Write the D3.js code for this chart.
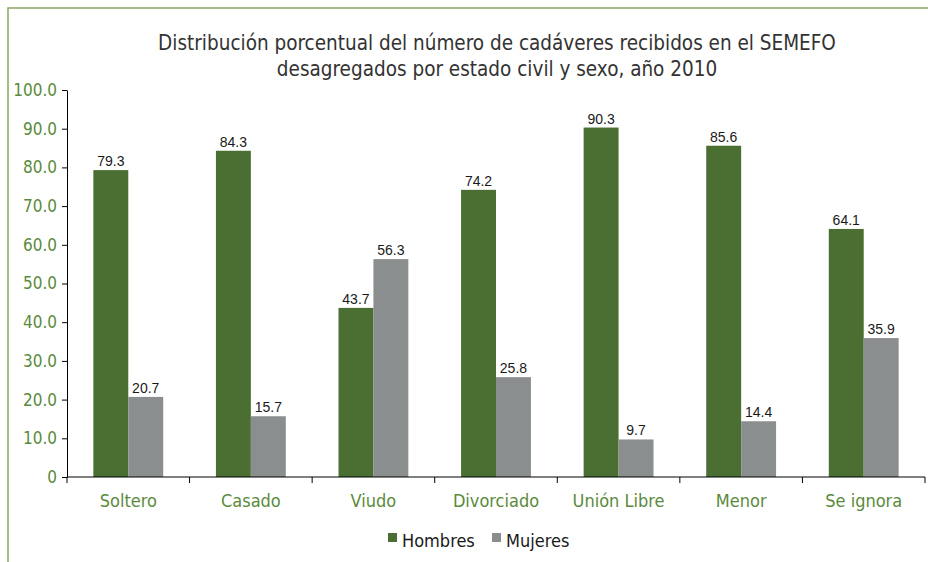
<html>
<head>
	<meta charset="utf-8">
	<title>SEMEFO 2010</title>
	<style>
		body { margin:0; background:#fff; }
		.cond { font-family: "Liberation Sans Narrow", "DejaVu Sans Condensed", "Roboto", sans-serif; }
		.xAxis path, .yAxis path { stroke:#000; }
	</style>
	<script src="https://cdn.jsdelivr.net/npm/d3@7/dist/d3.min.js"></script>
</head>
<body>
	<script type="text/javascript">

		/************** data *****************/
		var categories = ["Soltero","Casado","Viudo","Divorciado","Unión Libre","Menor","Se ignora"];
		var series = ["Hombres","Mujeres"];
		var hombres = [79.3, 84.3, 43.7, 74.2, 90.3, 85.6, 64.1];
		var mujeres = [20.7, 15.7, 56.3, 25.8, 9.7, 14.4, 35.9];
		var yTicks = [0,10,20,30,40,50,60,70,80,90,100];
		var titleLines = ["Distribución porcentual del número de cadáveres recibidos en el SEMEFO",
		                  "desagregados por estado civil y sexo, año 2010"];

		var colors = {Hombres:"#4b6f32", Mujeres:"#8b8e8e"};
		var green = "#5b8a3c";

		/************** layout *****************/
		var width = 928, height = 562;
		var margin = {top:90, right:3, bottom:85, left:67};

		var svg = d3.select("body").append("svg")
			.attr("width", width)
			.attr("height", height);

		// frame lines (top + left)
		svg.append("path")
			.attr("d", "M8,562 L8,8 L928,8")
			.attr("fill","none")
			.attr("stroke","#8aa860")
			.attr("stroke-width",1.5);

		// title
		svg.append("g").selectAll("text")
			.data(titleLines)
			.enter().append("text")
			.attr("class","cond")
			.attr("x", 497)
			.attr("y", function(d,i){ return 50 + i*26; })
			.attr("text-anchor","middle")
			.attr("font-size","20.5px")
			.attr("fill","#333")
			.text(function(d){ return d; });

		var data = categories.map(function(c,i){
			return {cat:c, vals:[{s:"Hombres", v:hombres[i]}, {s:"Mujeres", v:mujeres[i]}]};
		});

		var x0 = d3.scaleBand()
			.domain(categories)
			.range([margin.left, width - margin.right])
			.paddingInner(0.43)
			.paddingOuter(0.215);
		var x1 = d3.scaleBand()
			.domain(series)
			.range([0, x0.bandwidth()]);
		var y = d3.scaleLinear()
			.domain([0,100])
			.range([height - margin.bottom, margin.top]);

		// y axis
		var yAxis = d3.axisLeft(y)
			.tickValues(yTicks)
			.tickSize(5)
			.tickSizeOuter(0)
			.tickFormat(function(d){ return d === 0 ? "0" : d3.format(".1f")(d); });
		var gy = svg.append("g").attr("class","yAxis")
			.attr("transform","translate("+ margin.left +",0)")
			.call(yAxis);
		gy.selectAll(".tick line").attr("stroke","#000");
		gy.selectAll("text")
			.attr("class","cond")
			.attr("font-size","17px")
			.attr("fill", green)
			.attr("x",-10);

		// bars
		var groups = svg.append("g").selectAll("g")
			.data(data)
			.enter().append("g")
			.attr("transform", function(d){ return "translate("+ x0(d.cat) +",0)"; });

		groups.selectAll("rect")
			.data(function(d){ return d.vals; })
			.enter().append("rect")
			.attr("x", function(d){ return x1(d.s); })
			.attr("y", function(d){ return y(d.v); })
			.attr("width", x1.bandwidth())
			.attr("height", function(d){ return y(0) - y(d.v); })
			.attr("fill", function(d){ return colors[d.s]; });

		groups.selectAll("text")
			.data(function(d){ return d.vals; })
			.enter().append("text")
			.attr("x", function(d){ return x1(d.s) + x1.bandwidth()/2; })
			.attr("y", function(d){ return y(d.v) - 4; })
			.attr("text-anchor","middle")
			.attr("font-family","Liberation Sans, Arial, sans-serif")
			.attr("font-size","14px")
			.attr("fill","#1a1a1a")
			.text(function(d){ return d.v.toFixed(1); });

		// x axis
		var xAxis = d3.axisBottom(x0).tickSize(0).tickSizeOuter(0);
		var gx = svg.append("g").attr("class","xAxis")
			.attr("transform","translate(0,"+ y(0) +")")
			.call(xAxis);
		gx.select(".domain").attr("d","M"+ margin.left +",0H"+ (width - margin.right));
		gx.selectAll("text")
			.attr("class","cond")
			.attr("font-size","18px")
			.attr("fill", green)
			.attr("dy","0")
			.attr("y", 30);
		// boundary ticks between categories
		var step = x0.step();
		gx.selectAll(".sep")
			.data(d3.range(categories.length + 1))
			.enter().append("line")
			.attr("class","sep")
			.attr("x1", function(i){ return x0(categories[0]) - step*x0.paddingOuter() + i*step; })
			.attr("x2", function(i){ return x0(categories[0]) - step*x0.paddingOuter() + i*step; })
			.attr("y1",0).attr("y2",6)
			.attr("stroke","#000");

		// legend
		var legend = svg.append("g").attr("transform","translate(388,533)");
		var lx = [0, 104];
		series.forEach(function(s,i){
			legend.append("rect")
				.attr("x", lx[i]).attr("y",0)
				.attr("width",9).attr("height",9)
				.attr("fill", colors[s]);
			legend.append("text")
				.attr("class","cond")
				.attr("x", lx[i] + 14).attr("y",14)
				.attr("font-size","18px")
				.attr("fill","#1a1a1a")
				.text(s);
		});

	</script>
</body>
</html>
